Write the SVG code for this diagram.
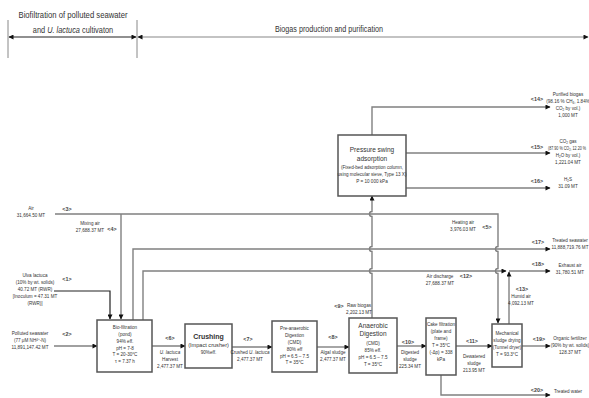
<svg xmlns="http://www.w3.org/2000/svg" width="589" height="398" viewBox="0 0 589 398">
<defs>
<style>
.t{font-family:"Liberation Sans Narrow","Arial Narrow","Liberation Sans",sans-serif;fill:#333;text-anchor:middle}
.s{font-size:4.6px}
.m{font-size:5.6px}
.b{font-size:7px;font-weight:bold}
.h{font-size:9px}
.tag{font-size:5.4px;font-weight:bold;fill:#444}
.ln{fill:none;stroke:#808080;stroke-width:1.4}
.dk{fill:none;stroke:#222;stroke-width:1.2}
.bx{fill:#fff;stroke:#555;stroke-width:1.5}
</style>
<marker id="ah" viewBox="0 0 10 10" refX="9" refY="5" markerWidth="6" markerHeight="5" orient="auto-start-reverse" markerUnits="userSpaceOnUse">
<path d="M0,0 L10,5 L0,10 z" fill="#111"/>
</marker>
</defs>
<rect width="589" height="398" fill="#fff"/>

<g id="header">
<line x1="8" y1="20" x2="8" y2="58" stroke="#888" stroke-width="1"/>
<line x1="137" y1="20" x2="137" y2="58" stroke="#888" stroke-width="1"/>
<path d="M9,37 H136" stroke="#222" stroke-width="1.2" fill="none" marker-start="url(#ah)" marker-end="url(#ah)"/>
<path d="M138,37 H588" stroke="#888" stroke-width="1.2" fill="none" marker-start="url(#ah)" marker-end="url(#ah)"/>
<text class="t h" x="73" y="18" textLength="109" lengthAdjust="spacingAndGlyphs">Biofiltration of polluted seawater</text>
<text class="t h" transform="translate(73,33) scale(0.82,1)">and <tspan font-style="italic">U. lactuca</tspan> cultivaton</text>
<text class="t h" x="329" y="32" textLength="108" lengthAdjust="spacingAndGlyphs">Biogas production and purification</text>
</g>

<g id="connectors">
<path class="dk" d="M54,291 H110 V319" marker-end="url(#ah)"/>
<path class="ln" d="M55,214 H498 V246.5 A2.5,2.5 0 0 0 498,251.5 V268.5 A2.5,2.5 0 0 0 498,273.5 V323" marker-end="url(#ah)"/>
<path class="ln" d="M121,214 V319" marker-end="url(#ah)"/>
<path class="ln" d="M133,320 V249 H550" marker-end="url(#ah)"/>
<path class="ln" d="M143,320 V271 H506" marker-end="url(#ah)"/>
<path class="ln" d="M509,271 H550" marker-end="url(#ah)"/>
<path class="ln" d="M509,324 V272" marker-end="url(#ah)"/>
<path class="ln" d="M54,346 H97" marker-end="url(#ah)"/>
<path class="ln" d="M152,346 H185" marker-end="url(#ah)"/>
<path class="ln" d="M232,347 H272" marker-end="url(#ah)"/>
<path class="ln" d="M317,347 H349" marker-end="url(#ah)"/>
<path class="ln" d="M397,346 H426" marker-end="url(#ah)"/>
<path class="ln" d="M456,346 H492" marker-end="url(#ah)"/>
<path class="ln" d="M522,346 H550" marker-end="url(#ah)"/>
<path class="ln" d="M441,375 V395 H550" marker-end="url(#ah)"/>
<path class="ln" d="M372,318 V273.5 A2.5,2.5 0 0 1 372,268.5 V251.5 A2.5,2.5 0 0 1 372,246.5 V216.5 A2.5,2.5 0 0 1 372,211.5 V196" marker-end="url(#ah)"/>
<path class="ln" d="M372,135 V107 H550" marker-end="url(#ah)"/>
<path class="ln" d="M406,153 H550" marker-end="url(#ah)"/>
<path class="ln" d="M406,188 H550" marker-end="url(#ah)"/>
</g>

<g id="biofilter">
<rect class="bx" x="97" y="320" width="55" height="52"/>
<text class="t s" x="125" y="329">Bio-filtration</text>
<text class="t s" x="125" y="336">(pond)</text>
<text class="t s" x="125" y="343">94% eff.</text>
<text class="t s" x="125" y="349.5">pH = 7-8</text>
<text class="t s" x="125" y="356">T = 20-30°C</text>
<text class="t s" x="125" y="362.5">τ = 7.37 h</text>
</g>

<g id="crushing">
<rect class="bx" x="185" y="324" width="47" height="44"/>
<text class="t b" x="208.5" y="339">Crushing</text>
<text class="t m" x="208.5" y="347">(Impact crusher)</text>
<text class="t s" x="208.5" y="354">90%eff.</text>
</g>

<g id="preAD">
<rect class="bx" x="272" y="321" width="45" height="51"/>
<text class="t s" x="294.5" y="330">Pre-anaerobic</text>
<text class="t s" x="294.5" y="337">Digestion</text>
<text class="t s" x="294.5" y="344">(CMD)</text>
<text class="t s" x="294.5" y="351">80% eff</text>
<text class="t s" x="294.5" y="357.5">pH = 6.5 – 7.5</text>
<text class="t s" x="294.5" y="364">T = 35°C</text>
</g>

<g id="AD">
<rect class="bx" x="349" y="318" width="48" height="55"/>
<text class="t" x="373" y="328" font-size="6.5">Anaerobic</text>
<text class="t" x="373" y="336" font-size="6.5">Digestion</text>
<text class="t s" x="373" y="345">(CMD)</text>
<text class="t s" x="373" y="352">85% eff.</text>
<text class="t s" x="373" y="359">pH = 6.5 – 7.5</text>
<text class="t s" x="373" y="366">T = 35°C</text>
</g>

<g id="cake">
<rect class="bx" x="426" y="318" width="30" height="57"/>
<text class="t s" x="441" y="326">Cake filtration</text>
<text class="t s" x="441" y="333">(plate and</text>
<text class="t s" x="441" y="340">frame)</text>
<text class="t s" x="441" y="347">T = 35°C</text>
<text class="t s" x="441" y="354">(-Δp) = 338</text>
<text class="t s" x="441" y="361">kPa</text>
</g>

<g id="dryer">
<rect class="bx" x="492" y="324" width="30" height="43"/>
<text class="t s" x="507" y="335">Mechanical</text>
<text class="t s" x="507" y="342">sludge drying</text>
<text class="t s" x="507" y="349">(Tunnel dryer)</text>
<text class="t s" x="507" y="356">T = 93.3°C</text>
</g>

<g id="psa">
<rect class="bx" x="338" y="135" width="68" height="61"/>
<text class="t" x="372" y="152" font-size="6.5">Pressure swing</text>
<text class="t" x="372" y="161" font-size="6.5">adsorption</text>
<text class="t s" x="372" y="169">(Fixed-bed adsorption column,</text>
<text class="t s" x="372" y="176">using molecular sieve, Type 13 X)</text>
<text class="t s" x="372" y="183">P = 10 000 kPa</text>
</g>

<g id="labels">
<text class="t s" x="31" y="210">Air</text>
<text class="t s" x="31" y="217">31,664.50 MT</text>
<text class="t tag" x="67" y="211">&lt;3&gt;</text>
<text class="t s" x="90" y="225">Mixing air</text>
<text class="t s" x="90" y="232">27,688.37 MT</text>
<text class="t tag" x="112" y="231">&lt;4&gt;</text>
<text class="t s" x="35" y="277">Ulva lactuca</text>
<text class="t s" x="35" y="284">(10% by wt. solids)</text>
<text class="t s" x="35" y="291">40.72 MT (RWR)</text>
<text class="t s" x="35" y="298">[Inoculum = 47.31 MT</text>
<text class="t s" x="35" y="305">(RWR)]</text>
<text class="t tag" x="67" y="281">&lt;1&gt;</text>
<text class="t s" x="30" y="335">Polluted seawater</text>
<text class="t s" x="30" y="342">(77 μM NH<tspan font-size="3" dy="-1.5">4</tspan><tspan font-size="3" dy="-0.5">+</tspan><tspan dy="2">-N)</tspan></text>
<text class="t s" x="30" y="349">11,891,147.42 MT</text>
<text class="t tag" x="67" y="336">&lt;2&gt;</text>
<text class="t tag" x="170" y="340">&lt;6&gt;</text>
<text class="t s" x="170" y="354"><tspan font-style="italic">U. lactuca</tspan></text>
<text class="t s" x="170" y="361">Harvest</text>
<text class="t s" x="170" y="368">2,477.37 MT</text>
<text class="t tag" x="248" y="341">&lt;7&gt;</text>
<text class="t s" x="250" y="354">Crushed <tspan font-style="italic">U. lactuca</tspan></text>
<text class="t s" x="250" y="361">2,477.37 MT</text>
<text class="t tag" x="333" y="339">&lt;8&gt;</text>
<text class="t s" x="333" y="354">Algal sludge</text>
<text class="t s" x="333" y="361">2,477.37 MT</text>
<text class="t tag" x="339" y="308">&lt;9&gt;</text>
<text class="t s" x="359" y="307">Raw biogas</text>
<text class="t s" x="359" y="314">2,202.13 MT</text>
<text class="t tag" x="408" y="344">&lt;10&gt;</text>
<text class="t s" x="410" y="354">Digested</text>
<text class="t s" x="410" y="361">sludge</text>
<text class="t s" x="410" y="368">225.34 MT</text>
<text class="t tag" x="472" y="343">&lt;11&gt;</text>
<text class="t s" x="474" y="358">Dewatered</text>
<text class="t s" x="474" y="365">sludge</text>
<text class="t s" x="474" y="372">213.95 MT</text>
<text class="t tag" x="539" y="341">&lt;19&gt;</text>
<text class="t s" x="570" y="340">Organic fertilizer</text>
<text class="t s" x="570" y="347">(90% by wt. solids)</text>
<text class="t s" x="570" y="354">128.37 MT</text>
<text class="t tag" x="537" y="392">&lt;20&gt;</text>
<text class="t s" x="568" y="393">Treated water</text>
<text class="t s" x="463" y="224">Heating air</text>
<text class="t s" x="463" y="231">3,976.03 MT</text>
<text class="t tag" x="487" y="229">&lt;5&gt;</text>
<text class="t tag" x="538" y="244">&lt;17&gt;</text>
<text class="t s" x="570" y="242">Treated seawater</text>
<text class="t s" x="570" y="249">11,888,719.76 MT</text>
<text class="t s" x="440" y="278">Air discharge</text>
<text class="t tag" x="466" y="278">&lt;12&gt;</text>
<text class="t s" x="440" y="285">27,688.37 MT</text>
<text class="t tag" x="538" y="266">&lt;18&gt;</text>
<text class="t s" x="570" y="267">Exhaust air</text>
<text class="t s" x="570" y="274">31,780.51 MT</text>
<text class="t tag" x="522" y="291">&lt;13&gt;</text>
<text class="t s" x="521" y="298">Humid air</text>
<text class="t s" x="521" y="305">4,092.13 MT</text>
<text class="t tag" x="537" y="101">&lt;14&gt;</text>
<text class="t s" x="568" y="96">Purified biogas</text>
<text class="t s" x="568" y="103">(98.16 % CH<tspan font-size="3" dy="1">4</tspan><tspan dy="-1">, 1.84%</tspan></text>
<text class="t s" x="568" y="110">CO<tspan font-size="3" dy="1">2</tspan><tspan dy="-1"> by vol.)</tspan></text>
<text class="t s" x="568" y="117">1,000 MT</text>
<text class="t tag" x="537" y="149">&lt;15&gt;</text>
<text class="t s" x="568" y="143">CO<tspan font-size="3" dy="1">2</tspan><tspan dy="-1"> gas</tspan></text>
<text class="t s" transform="translate(567,150) scale(0.8,1)">(87.90 % CO<tspan font-size="3" dy="1">2</tspan><tspan dy="-1">, 12.20 %</tspan></text>
<text class="t s" x="568" y="157">H<tspan font-size="3" dy="1">2</tspan><tspan dy="-1">O by vol.)</tspan></text>
<text class="t s" x="568" y="164">1,221.04 MT</text>
<text class="t tag" x="537" y="183">&lt;16&gt;</text>
<text class="t s" x="568" y="181">H<tspan font-size="3" dy="1">2</tspan><tspan dy="-1">S</tspan></text>
<text class="t s" x="568" y="188">31.09 MT</text>
</g>
</svg>
